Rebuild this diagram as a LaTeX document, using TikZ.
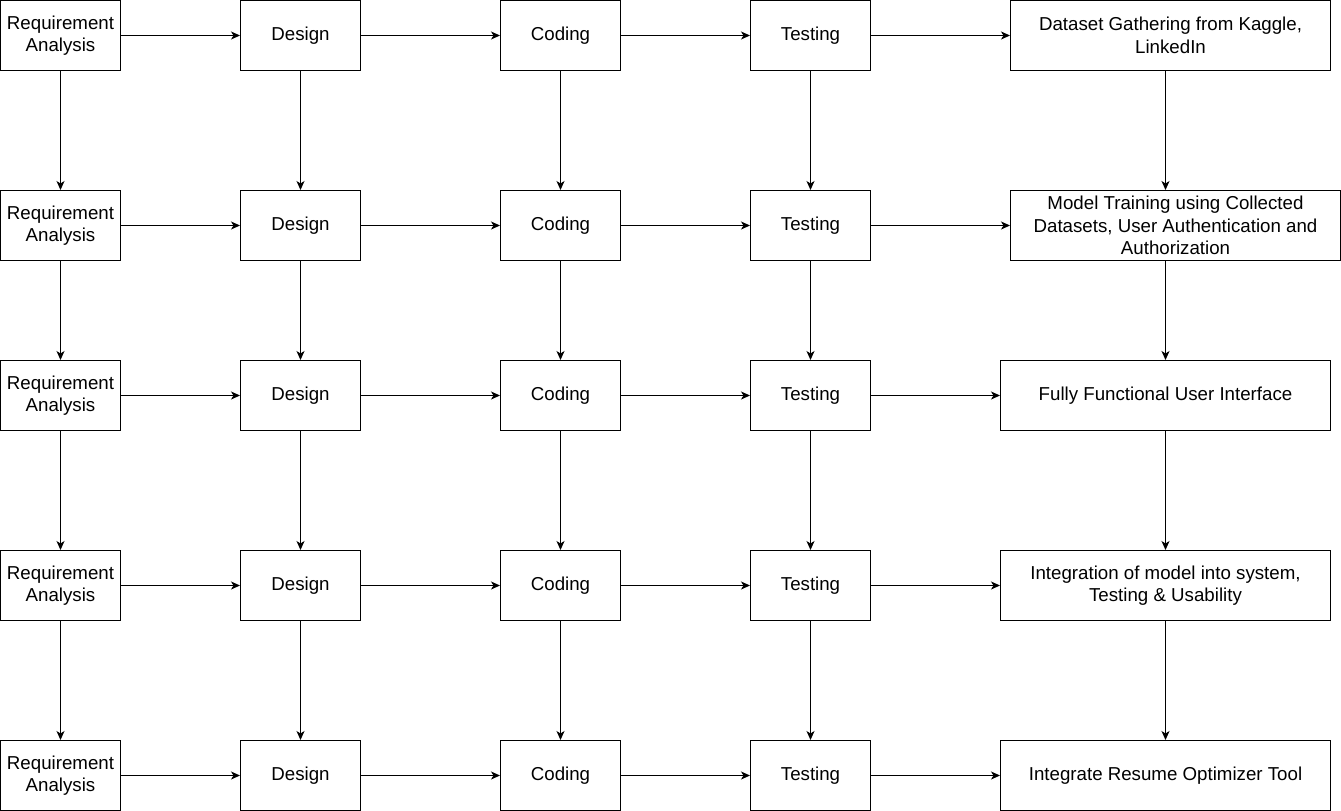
\documentclass[tikz,border=0pt]{standalone}
\usepackage{fontspec}
\setmainfont{Liberation Sans}
\usetikzlibrary{arrows.meta}
\begin{document}
\begin{tikzpicture}[x=1pt,y=-1pt,
  stage/.style={draw, line width=1pt, minimum width=120pt, minimum height=70pt,
    inner sep=0pt, align=center, font=\fontsize{18.7}{22.5}\selectfont},
  goal/.style={stage, minimum width=#1},
  arr/.style={-{Stealth[length=9pt,width=8pt,inset=2.5pt]}, line width=1pt}]
\useasboundingbox (-0.5,-0.5) rectangle (1340.5,810.5);

% the four phases repeated on each row
\foreach \r/\y in {1/35,2/225,3/395,4/585,5/775} {
  \node[stage] (req\r) at (60,\y)  {Requirement\\Analysis};
  \node[stage] (des\r) at (300,\y) {Design};
  \node[stage] (cod\r) at (560,\y) {Coding};
  \node[stage] (tst\r) at (810,\y) {Testing};
}

% deliverable of each row
\node[goal=320pt] (g1) at (1170,35)  {Dataset Gathering from Kaggle,\\LinkedIn};
\node[goal=330pt] (g2) at (1175,225) {Model Training using Collected\\Datasets, User Authentication and\\Authorization};
\node[goal=330pt] (g3) at (1165,395) {Fully Functional User Interface};
\node[goal=330pt] (g4) at (1165,585) {Integration of model into system,\\Testing \& Usability};
\node[goal=330pt] (g5) at (1165,775) {Integrate Resume Optimizer Tool};

% flow along each row
\foreach \r in {1,...,5} {
  \draw[arr] (req\r) -- (des\r);
  \draw[arr] (des\r) -- (cod\r);
  \draw[arr] (cod\r) -- (tst\r);
  \draw[arr] (tst\r) -- (g\r);
}

% flow down each column
\foreach \r/\n in {1/2,2/3,3/4,4/5} {
  \draw[arr] (req\r.south) -- (req\n.north);
  \draw[arr] (des\r.south) -- (des\n.north);
  \draw[arr] (cod\r.south) -- (cod\n.north);
  \draw[arr] (tst\r.south) -- (tst\n.north);
  \draw[arr] (g\r.south -| g3.center) -- (g\n.north -| g3.center);
}
\end{tikzpicture}
\end{document}
